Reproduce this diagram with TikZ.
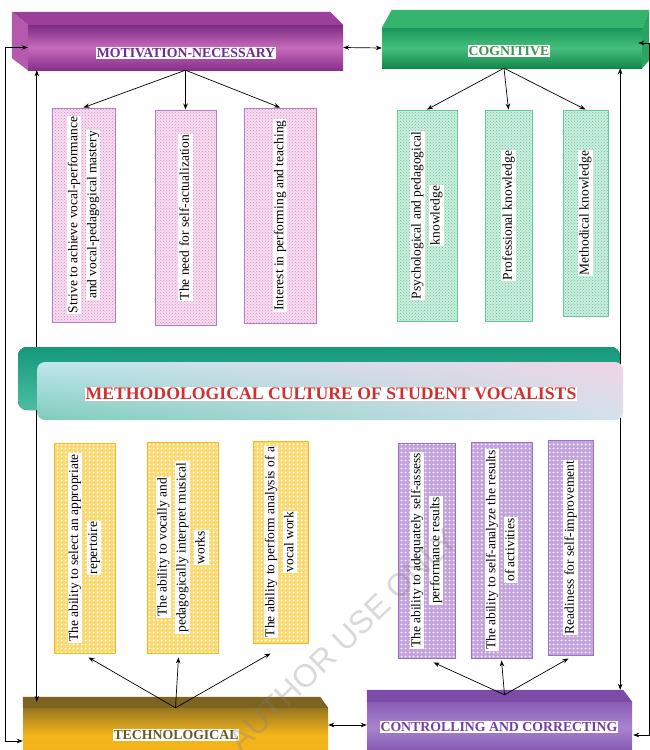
\documentclass[tikz,border=0pt]{standalone}
\usepackage{fontspec}
\setmainfont{Liberation Serif}
\newfontfamily\wmfont{Liberation Sans}
\usetikzlibrary{patterns,shadings,arrows.meta,calc}

\definecolor{motTop}{HTML}{9C3F9A}
\definecolor{motSide}{HTML}{B35AAF}
\definecolor{motA}{HTML}{7C2A82}
\definecolor{motB}{HTML}{C66BBB}
\definecolor{motC}{HTML}{862F8B}
\definecolor{motTxt}{HTML}{6F2C8F}
\definecolor{cogTop}{HTML}{34B36C}
\definecolor{cogSide}{HTML}{2AA460}
\definecolor{cogA}{HTML}{19975A}
\definecolor{cogB}{HTML}{45BF7C}
\definecolor{cogC}{HTML}{13874A}
\definecolor{cogTxt}{HTML}{3F9456}
\definecolor{banA}{HTML}{14987A}
\definecolor{banB}{HTML}{4DBDA2}
\definecolor{banUL}{HTML}{BEE6EE}
\definecolor{banUR}{HTML}{F1D3E5}
\definecolor{banLL}{HTML}{7ECDBB}
\definecolor{banLR}{HTML}{D3E2EE}
\definecolor{titleRed}{HTML}{D32F2F}
\definecolor{techTop}{HTML}{7D6320}
\definecolor{techA}{HTML}{977620}
\definecolor{techB}{HTML}{F4B51B}
\definecolor{techC}{HTML}{EFB21C}
\definecolor{techTxt}{HTML}{6B5A28}
\definecolor{ctrlTop}{HTML}{7B4CA8}
\definecolor{ctrlA}{HTML}{8A5CB7}
\definecolor{ctrlB}{HTML}{A784CE}
\definecolor{ctrlC}{HTML}{8456B3}
\definecolor{ctrlTxt}{HTML}{7040A8}
\definecolor{pinkLine}{HTML}{B67CC8}
\definecolor{pinkFill}{HTML}{F7DDF0}
\definecolor{pinkDot}{HTML}{D98BC6}
\definecolor{greenLine}{HTML}{66CC99}
\definecolor{greenFill}{HTML}{CDEEDF}
\definecolor{greenDot}{HTML}{5EC497}
\definecolor{yelLine}{HTML}{F3BA18}
\definecolor{yelFill}{HTML}{F9D970}
\definecolor{purLine}{HTML}{9C70C2}
\definecolor{purFill}{HTML}{C2A3DA}

\pgfdeclarepatternformonly{bigdots}{\pgfqpoint{0pt}{0pt}}{\pgfqpoint{4pt}{4pt}}{\pgfqpoint{4pt}{4pt}}%
{\pgfpathcircle{\pgfqpoint{2pt}{2pt}}{1.25pt}\pgfusepath{fill}}

\newcommand\hlw[1]{{\fboxsep=1pt\colorbox{white}{\vphantom{Ahgy}#1}}}

\tikzset{
  arr/.style={-{Stealth[length=6pt,width=4.5pt]}, line width=0.7pt},
  darr/.style={{Stealth[length=6pt,width=4.5pt]}-{Stealth[length=6pt,width=4.5pt]}, line width=0.7pt},
  hdr/.style={fill=white, inner sep=1pt, font=\bfseries\fontsize{13.8}{16}\selectfont},
  vbox/.style={draw, line width=0.9pt, inner sep=0pt},
  pinkbox/.style={vbox, draw=pinkLine, preaction={fill=pinkFill}, pattern=crosshatch dots, pattern color=pinkDot},
  greenbox/.style={vbox, draw=greenLine, preaction={fill=greenFill}, pattern=crosshatch dots, pattern color=greenDot},
  yelbox/.style={vbox, draw=yelLine, preaction={fill=yelFill}, pattern=bigdots, pattern color=white},
  purbox/.style={vbox, draw=purLine, preaction={fill=purFill}, pattern=bigdots, pattern color=white!85!purFill},
  vtext/.style={rotate=90, align=center, inner sep=0pt, font=\fontsize{13.5}{19}\selectfont},
}

\begin{document}
\begin{tikzpicture}[x=1pt,y=-1pt]
\useasboundingbox (0,0) rectangle (649,750);

% ---------- header boxes ----------
\node[minimum width=315pt, minimum height=45pt, inner sep=0pt,
      top color=motA, bottom color=motC, middle color=motB] (mot) at (185.5,47.5) {};
\fill[motTop] ([shift={(-16pt,13pt)}]mot.north west) -- ([shift={(-13pt,13pt)}]mot.north east)
   -- (mot.north east) -- (mot.north west) -- cycle;
\fill[motSide] ([shift={(-16pt,13pt)}]mot.north west) -- (mot.north west) -- (mot.south west)
   -- ([shift={(-16pt,12pt)}]mot.south west) -- cycle;

\node[minimum width=260pt, minimum height=40pt, inner sep=0pt,
      top color=cogA, bottom color=cogC, middle color=cogB] (cog) at (512,48) {};
\fill[cogTop] (cog.north west) -- ([shift={(10pt,18pt)}]cog.north west)
   -- ([shift={(7pt,18pt)}]cog.north east) -- (cog.north east) -- cycle;
\fill[cogSide] (cog.north east) -- ([shift={(7pt,18pt)}]cog.north east)
   -- ([shift={(7pt,8pt)}]cog.south east) -- (cog.south east) -- cycle;

\node[minimum width=305pt, minimum height=54pt, inner sep=0pt,
      top color=techA, bottom color=techC, middle color=techB] (tech) at (175.5,735) {};
\fill[techTop] ([shift={(0pt,11pt)}]tech.north west) -- ([shift={(-8pt,11pt)}]tech.north east)
   -- (tech.north east) -- (tech.north west) -- cycle;

\node[minimum width=265pt, minimum height=50pt, inner sep=0pt,
      top color=ctrlA, bottom color=ctrlC, middle color=ctrlB] (ctrl) at (499.5,727) {};
\fill[ctrlTop] ([shift={(0pt,12pt)}]ctrl.north west) -- ([shift={(-9pt,12pt)}]ctrl.north east)
   -- (ctrl.north east) -- (ctrl.north west) -- cycle;

% ---------- long connectors (behind banner) ----------
\draw[darr] (mot.west) -- ++(-22pt,0pt) |- ([yshift=-6pt]tech.west);
\draw[darr] ([xshift=9pt]mot.south west) -- ([xshift=14pt,yshift=6pt]tech.north west);
\draw[darr] ([xshift=-22pt]cog.south east) -- ([xshift=-12pt,yshift=12pt]ctrl.north east);
\draw[darr] ([xshift=-4pt,yshift=5pt]cog.east) -- ++(11pt,0pt) |- ([xshift=1pt,yshift=-8pt]ctrl.east);
\draw[darr] (mot.east) -- (cog.west);
\draw[darr] ([yshift=10pt]tech.east) -- ([yshift=10pt]tech.east -| ctrl.west);

% ---------- central banner ----------
\fill[rounded corners=9pt, top color=banA, bottom color=banB] (18,347) rectangle (620,410);
\node[minimum width=586pt, minimum height=58pt, inner sep=0pt, rounded corners=8pt,
      shading=bilinear interpolation, upper left=banUL, upper right=banUR,
      lower left=banLL, lower right=banLR] (ban) at (330,391) {};
\node[fill=white, inner sep=1pt, text=titleRed, font=\bfseries\fontsize{17.7}{20}\selectfont]
   (title) at (331,394) {METHODOLOGICAL CULTURE OF STUDENT VOCALISTS};

% ---------- header labels ----------
\node[hdr, text=motTxt] (motl) at (186,53) {MOTIVATION-NECESSARY};
\node[hdr, text=cogTxt] (cogl) at (509,51) {COGNITIVE};
\node[hdr, text=techTxt] (techl) at (176,735) {TECHNOLOGICAL};
\node[hdr, text=ctrlTxt] (ctrll) at (499,727) {CONTROLLING AND CORRECTING};

% ---------- component boxes ----------
\node[pinkbox, minimum width=63pt, minimum height=214pt] (b1) at (83.5,215) {};
\node[pinkbox, minimum width=61pt, minimum height=215pt] (b2) at (185.5,217.5) {};
\node[pinkbox, minimum width=72pt, minimum height=215pt] (b3) at (280,215.5) {};
\node[greenbox, minimum width=60pt, minimum height=211pt] (b4) at (427,215.5) {};
\node[greenbox, minimum width=47pt, minimum height=211pt] (b5) at (508.5,215.5) {};
\node[greenbox, minimum width=45pt, minimum height=206pt] (b6) at (585.5,213) {};
\node[yelbox, minimum width=61pt, minimum height=210pt] (b7) at (84.5,548) {};
\node[yelbox, minimum width=71pt, minimum height=211pt] (b8) at (182.5,547.5) {};
\node[yelbox, minimum width=55pt, minimum height=202pt] (b9) at (280.5,542) {};
\node[purbox, minimum width=57pt, minimum height=215pt] (b10) at (426.5,550.5) {};
\node[purbox, minimum width=61pt, minimum height=216pt] (b11) at (501.5,550) {};
\node[purbox, minimum width=45pt, minimum height=215pt] (b12) at (570.5,547.5) {};

\node[vtext] (t1) at (b1) {\hlw{Strive to achieve vocal-performance}\\\hlw{and vocal-pedagogical mastery}};
\node[vtext] (t2) at (b2) {\hlw{The need for self-actualization}};
\node[vtext] (t3) at (b3) {\hlw{Interest in performing and teaching}};
\node[vtext] (t4) at (b4) {\hlw{Psychological and pedagogical}\\\hlw{knowledge}};
\node[vtext] (t5) at (b5) {\hlw{Professional knowledge}};
\node[vtext] (t6) at (b6) {\hlw{Methodical knowledge}};
\node[vtext] (t7) at (b7) {\hlw{The ability to select an appropriate}\\\hlw{repertoire}};
\node[vtext] (t8) at (b8) {\hlw{The ability to vocally and}\\\hlw{pedagogically interpret musical}\\\hlw{works}};
\node[vtext] (t9) at (b9) {\hlw{The ability to perform analysis of a}\\\hlw{vocal work}};
\node[vtext] (t10) at (b10) {\hlw{The ability to adequately self-assess}\\\hlw{performance results}};
\node[vtext] (t11) at (b11) {\hlw{The ability to self-analyze the results}\\\hlw{of activities}};
\node[vtext] (t12) at (b12) {\hlw{Readiness for self-improvement}};

% ---------- fan-out arrows ----------
\draw[arr] (mot.south) -- (b1.north);
\draw[arr] (mot.south) -- (b2.north);
\draw[arr] (mot.south) -- (b3.north);
\draw[arr] ([xshift=-8pt]cog.south) -- (b4.north);
\draw[arr] ([xshift=-8pt]cog.south) -- (b5.north);
\draw[arr] ([xshift=-8pt]cog.south) -- (b6.north);
\draw[arr] (tech.north) -- ([xshift=4pt,yshift=-4pt]b7.south);
\draw[arr] (tech.north) -- ([xshift=-4pt,yshift=-4pt]b8.south);
\draw[arr] (tech.north) -- ([xshift=-10pt,yshift=-10pt]b9.south);
\draw[arr] ([xshift=5pt,yshift=7pt]ctrl.north) -- ([xshift=7pt,yshift=-4pt]b10.south);
\draw[arr] ([xshift=5pt,yshift=7pt]ctrl.north) -- ([yshift=-2pt]b11.south);
\draw[arr] ([xshift=5pt,yshift=7pt]ctrl.north) -- ([xshift=-2pt,yshift=-3pt]b12.south);

% ---------- watermark ----------
\node[rotate=44, text=gray, opacity=0.3, font=\wmfont\fontsize{32}{34}\selectfont] (wm) at (343,640) {AUTHOR USE ONLY};
\end{tikzpicture}
\end{document}
